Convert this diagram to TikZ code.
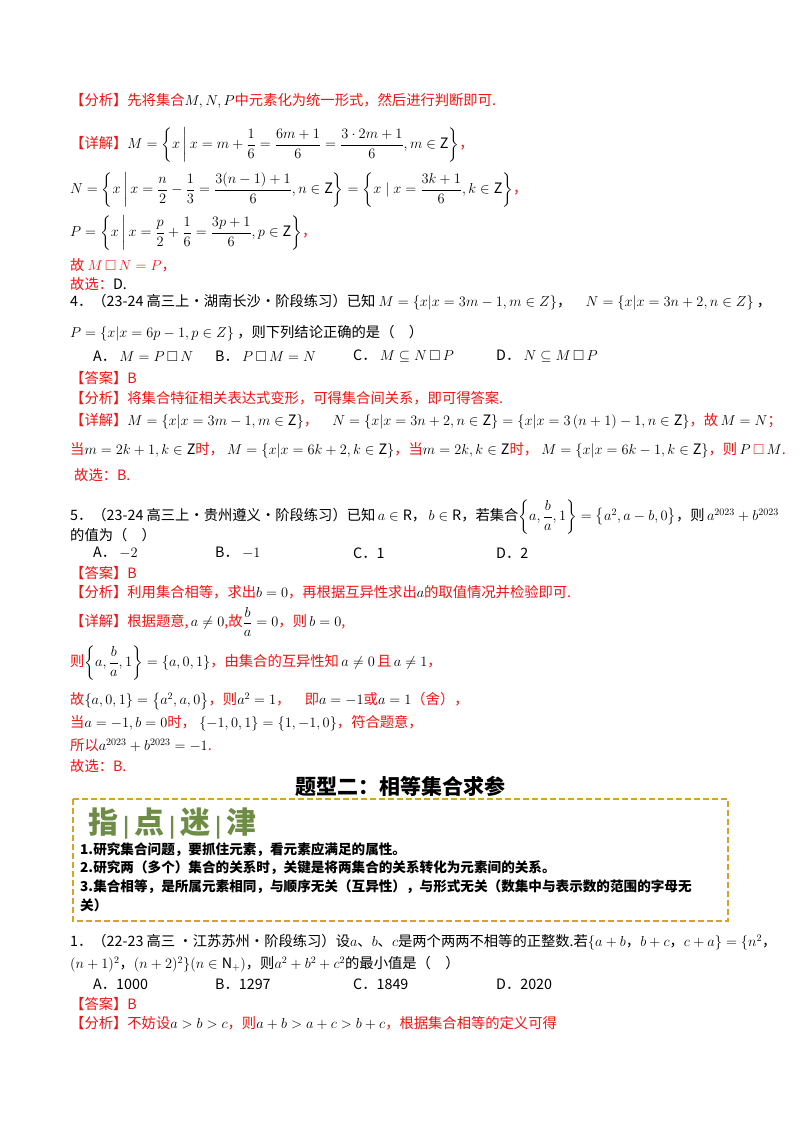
\documentclass[tikz,border=0pt]{standalone}
\usepackage{fontspec}
\usepackage{amsmath,amssymb}
\setmainfont{Noto Sans CJK SC}
\definecolor{rr}{RGB}{240,20,20}
\definecolor{gold}{RGB}{214,162,40}
\definecolor{gg}{RGB}{110,140,70}
\newcommand\rd[1]{\textcolor{rr}{#1}}
\newcommand\sq{\ensuremath{\square}}
\newcommand\Zr{\mathrm{Z}}
\begin{document}
\begin{tikzpicture}[x=1pt,y=-1pt,
  t/.style={anchor=west,inner sep=0pt,font=\fontsize{14.3}{16}\selectfont},
  b/.style={anchor=west,inner sep=0pt,font=\fontsize{13.6}{16}\selectfont\bfseries}]
\useasboundingbox (0,0) rectangle (800,1132);
\fill[white] (0,0) rectangle (800,1132);
\node[t] (l1) at (70,101) {\rd{【分析】先将集合}$M,N,P$\rd{中元素化为统一形式，然后进行判断即可.}};
\node[t] (l2) at (70,145) {\rd{【详解】}$M=\left\{x\,\middle|\,x=m+\dfrac{1}{6}=\dfrac{6m+1}{6}=\dfrac{3\cdot 2m+1}{6},m\in\Zr\right\}$\rd{，}};
\node[t] (l3) at (70,190) {$N=\left\{x\,\middle|\,x=\dfrac{n}{2}-\dfrac{1}{3}=\dfrac{3(n-1)+1}{6},n\in\Zr\right\}=\left\{x\mid x=\dfrac{3k+1}{6},k\in\Zr\right\}$\rd{，}};
\node[t] (l4) at (70,233) {$P=\left\{x\,\middle|\,x=\dfrac{p}{2}+\dfrac{1}{6}=\dfrac{3p+1}{6},p\in\Zr\right\}$\rd{，}};
\node[t] (l5) at (70,265) {\rd{故 $M$\,\sq\,$N=P$，}};
\node[t] (l6) at (70,284) {\rd{故选：}D.};
\node[t] (q4) at (70,302) {4．（23-24 高三上·湖南长沙·阶段练习）已知 $M=\left\{x\middle|x=3m-1,m\in Z\right\}$，\quad $N=\left\{x\middle|x=3n+2,n\in Z\right\}$\ ，};
\node[t] (q4b) at (70,333) {$P=\left\{x\middle|x=6p-1,p\in Z\right\}$\ ，则下列结论正确的是（\quad ）};
\node[t] (o4a) at (93,356) {A．\ $M=P$\,\sq\,$N$};
\node[t] (o4b) at (215,356) {B．\ $P$\,\sq\,$M=N$};
\node[t] (o4c) at (353,356) {C．\ $M\subseteq N$\,\sq\,$P$};
\node[t] (o4d) at (496,356) {D．\ $N\subseteq M$\,\sq\,$P$};
\node[t] (a4) at (70,378) {\rd{【答案】B}};
\node[t] (f4) at (70,398) {\rd{【分析】将集合特征相关表达式变形，可得集合间关系，即可得答案.}};
\node[t] (x4) at (70,421) {\rd{【详解】}$M=\left\{x\middle|x=3m-1,m\in\Zr\right\}$\rd{，}\quad $N=\left\{x\middle|x=3n+2,n\in\Zr\right\}=\left\{x\middle|x=3\left(n+1\right)-1,n\in\Zr\right\}$\rd{，故}\,$M=N$\rd{；}};
\node[t] (y4) at (70,450) {\rd{当}$m=2k+1,k\in\Zr$\rd{时，}\ $M=\left\{x\middle|x=6k+2,k\in\Zr\right\}$\rd{，当}$m=2k,k\in\Zr$\rd{时，}\ $M=\left\{x\middle|x=6k-1,k\in\Zr\right\}$\rd{，则}\,$P$\,\rd{\sq}\,$M$\rd{.}};
\node[t] (z4) at (74,475) {\rd{故选：B.}};
\node[t] (q5) at (70,517) {5．（23-24 高三上·贵州遵义·阶段练习）已知\,$a\in\mathrm{R}$，\,$b\in\mathrm{R}$，若集合$\left\{a,\dfrac{b}{a},1\right\}=\left\{a^2,a-b,0\right\}$，则\,$a^{2023}+b^{2023}$};
\node[t] (q5b) at (70,535) {的值为（\quad ）};
\node[t] (o5a) at (93,553) {A．\ $-2$};
\node[t] (o5b) at (215,553) {B．\ $-1$};
\node[t] (o5c) at (353,553) {C．1};
\node[t] (o5d) at (496,553) {D．2};
\node[t] (a5) at (70,573) {\rd{【答案】B}};
\node[t] (f5) at (70,592) {\rd{【分析】利用集合相等，求出}$b=0$\rd{，再根据互异性求出}$a$\rd{的取值情况并检验即可.}};
\node[t] (x5) at (70,622) {\rd{【详解】根据题意,}\,$a\neq0$\rd{,故}$\dfrac{b}{a}=0$\rd{，则}\,$b=0$\rd{,}};
\node[t] (y5) at (70,663) {\rd{则}$\left\{a,\dfrac{b}{a},1\right\}=\{a,0,1\}$\rd{，由集合的互异性知}\,$a\neq0$\,\rd{且}\,$a\neq1$\rd{，}};
\node[t] (z5) at (70,701) {\rd{故}$\{a,0,1\}=\left\{a^2,a,0\right\}$\rd{，则}$a^2=1$\rd{，\quad 即}$a=-1$\rd{或}$a=1$\rd{（舍），}};
\node[t] (w5) at (70,723) {\rd{当}$a=-1,b=0$\rd{时，}\ $\{-1,0,1\}=\{1,-1,0\}$\rd{，符合题意，}};
\node[t] (v5) at (70,745) {\rd{所以}$a^{2023}+b^{2023}=-1$\rd{.}};
\node[t] (u5) at (70,766) {\rd{故选：B.}};
\node[anchor=center,inner sep=0pt,font=\fontsize{21}{23}\selectfont\bfseries] (title) at (400,786) {题型二：相等集合求参};
\draw[gold,line width=1.3pt,dash pattern=on 6pt off 3pt] (73,799) rectangle (728,921);
\node[anchor=west,inner sep=0pt,font=\fontsize{30}{32}\selectfont\bfseries,text=gg] (zd) at (88,824) {指\,{\fontsize{20}{20}\selectfont\textbar}\,点\,{\fontsize{20}{20}\selectfont\textbar}\,迷\,{\fontsize{20}{20}\selectfont\textbar}\,津};
\node[b] (p1) at (80,850) {1.研究集合问题，要抓住元素，看元素应满足的属性。};
\node[b] (p2) at (80,868) {2.研究两（多个）集合的关系时，关键是将两集合的关系转化为元素间的关系。};
\node[b] (p3) at (80,887) {3.集合相等，是所属元素相同，与顺序无关（互异性），与形式无关（数集中与表示数的范围的字母无};
\node[b] (p4) at (80,905) {关）};
\node[t] (q1) at (70,942) {1．（22-23 高三 ·江苏苏州·阶段练习）设$a$、$b$、$c$是两个两两不相等的正整数.若$\{a+b$，$b+c$，$c+a\}=\{n^2$，};
\node[t] (q1b) at (70,964) {$(n+1)^2$，$(n+2)^2\}(n\in\mathrm{N}_+)$，则$a^2+b^2+c^2$的最小值是（\quad ）};
\node[t] (o1a) at (93,984) {A．1000};
\node[t] (o1b) at (215,984) {B．1297};
\node[t] (o1c) at (353,984) {C．1849};
\node[t] (o1d) at (496,984) {D．2020};
\node[t] (a1) at (70,1004) {\rd{【答案】B}};
\node[t] (f1) at (70,1023) {\rd{【分析】不妨设}$a>b>c$\rd{，则}$a+b>a+c>b+c$\rd{，根据集合相等的定义可得}};
\end{tikzpicture}
\end{document}
